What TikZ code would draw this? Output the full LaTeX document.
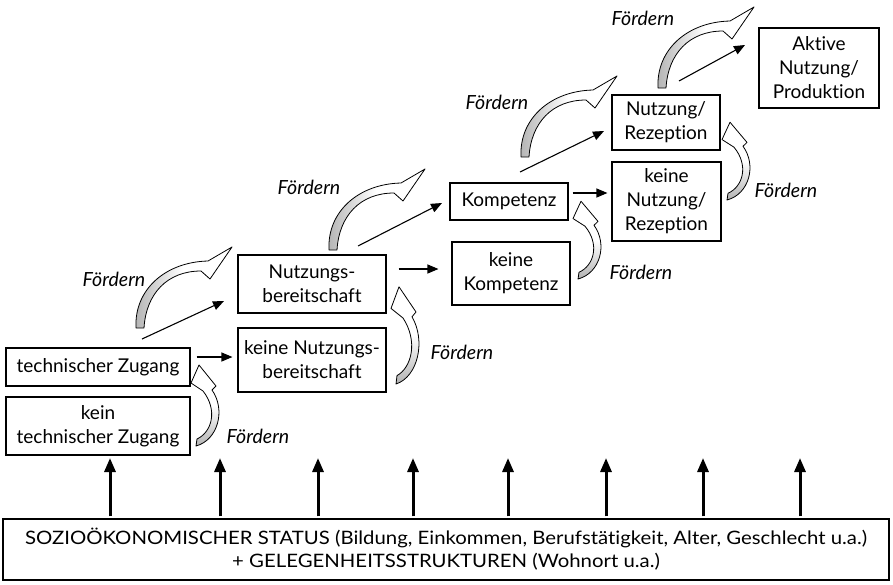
\documentclass[tikz,border=0pt]{standalone}
\usepackage{fontspec}
\setmainfont{Lato}[Ligatures=NoCommon]
\usetikzlibrary{arrows.meta,calc}
\newcommand\uparcarrow[2]{%
 \path[curv,shift={#1},left color=gray!60,right color=white,middle color=white,#2]
 (-4,0) .. controls (-6,-38) and (25,-66) .. (68,-67) -- (92,-81) -- (70,-49) -- (61,-57)
 .. controls (27,-57) and (6,-34) .. (4,0) -- cycle;}
\newcommand\lowarcarrow[2]{%
 \path[curv,shift={#1},top color=white,bottom color=gray!60,middle color=white,#2]
 (0,0) .. controls (22,-6) and (30,-36) .. (16,-56) -- (20,-60) -- (3,-81) -- (-5,-63) -- (7,-55)
 .. controls (22,-36) and (16,-14) .. (1,-7) -- cycle;}
\begin{document}
\begin{tikzpicture}[x=1pt,y=-1pt,
 box/.style={draw,line width=1.1pt,inner sep=0pt,align=center,font=\fontsize{19}{24}\selectfont},
 lbl/.style={font=\fontsize{19.5}{22}\selectfont\itshape,inner sep=0pt},
 arr/.style={line width=1.1pt,-{Triangle[length=11pt,width=9pt]}},
 uparr/.style={line width=3pt,-{Triangle[length=14pt,width=11pt]}},
 curv/.style={draw,line width=0.8pt,line join=round}]
\useasboundingbox (0,0) rectangle (893,584);
% boxes
\node[box,minimum width=184pt,minimum height=38pt] (tz) at (98,367) {technischer Zugang};
\node[box,minimum width=184pt,minimum height=58pt] (ktz) at (98,426) {kein\\technischer Zugang};
\node[box,minimum width=148pt,minimum height=58pt] (nb) at (312,284) {Nutzungs-\\bereitschaft};
\node[box,minimum width=148pt,minimum height=64pt] (knb) at (312,360) {keine Nutzungs-\\bereitschaft};
\node[box,minimum width=118pt,minimum height=37pt] (k) at (509,201.5) {Kompetenz};
\node[box,minimum width=118pt,minimum height=63pt] (kk) at (511,273.5) {keine\\Kompetenz};
\node[box,minimum width=108pt,minimum height=55pt] (nr) at (666,122.5) {Nutzung/\\Rezeption};
\node[box,minimum width=109pt,minimum height=79pt] (knr) at (666.5,201.5) {keine\\Nutzung/\\Rezeption};
\node[box,minimum width=120pt,minimum height=80pt] (ak) at (819,68) {Aktive\\Nutzung/\\Produktion};
\node[box,minimum width=886pt,minimum height=61pt,font=\fontsize{18.5}{23}\selectfont] (bot) at (446,549.5)
 {\scalebox{1.1}[1]{SOZIOÖKONOMISCHER STATUS (Bildung, Einkommen, Berufstätigkeit, Alter, Geschlecht u.a.)}\\
  \scalebox{1.1}[1]{+ GELEGENHEITSSTRUKTUREN (Wohnort u.a.)}};
% horizontal arrows
\draw[arr] ([xshift=6pt]tz.east |- 0,357) -- ([xshift=-5pt]knb.west |- 0,357);
\draw[arr] ([xshift=12pt]nb.east |- 0,269) -- ([xshift=-13pt]kk.west |- 0,269);
\draw[arr] ([xshift=4pt]k.east |- 0,193) -- ([xshift=-4pt]knr.west |- 0,193);
% diagonal arrows
\coordinate (d1) at (142,339); \coordinate (e1) at (224,301);
\coordinate (d2) at (358,246); \coordinate (e2) at (442,203);
\coordinate (d3) at (520,172); \coordinate (e3) at (604,131);
\coordinate (d4) at (679,81);  \coordinate (e4) at (745,45);
\foreach \i in {1,...,4} \draw[arr] (d\i) -- (e\i);
% curved arrows
\uparcarrow{(140,328)}{}
\uparcarrow{(333,250)}{}
\uparcarrow{(525,157)}{}
\uparcarrow{(662,88)}{}
\lowarcarrow{(196,446)}{}
\lowarcarrow{(396,384)}{yscale=1.2}
\lowarcarrow{(578,279)}{yscale=0.96}
\lowarcarrow{(727,200)}{yscale=0.96}
% labels
\node[lbl] (f1) at (114,279) {Fördern};
\node[lbl] (f2) at (309,187) {Fördern};
\node[lbl] (f3) at (497,102) {Fördern};
\node[lbl] (f4) at (643,18) {Fördern};
\node[lbl] (f5) at (258,436) {Fördern};
\node[lbl] (f6) at (462,352) {Fördern};
\node[lbl] (f7) at (641,272) {Fördern};
\node[lbl] (f8) at (786,190) {Fördern};
% up arrows
\foreach \x [count=\i] in {110,220,318,413,508,606,703,800}{
  \coordinate (u\i) at (\x,458);
  \draw[uparr] (u\i |- bot.north) ++(0,-2) -- (u\i);
}
\end{tikzpicture}
\end{document}
